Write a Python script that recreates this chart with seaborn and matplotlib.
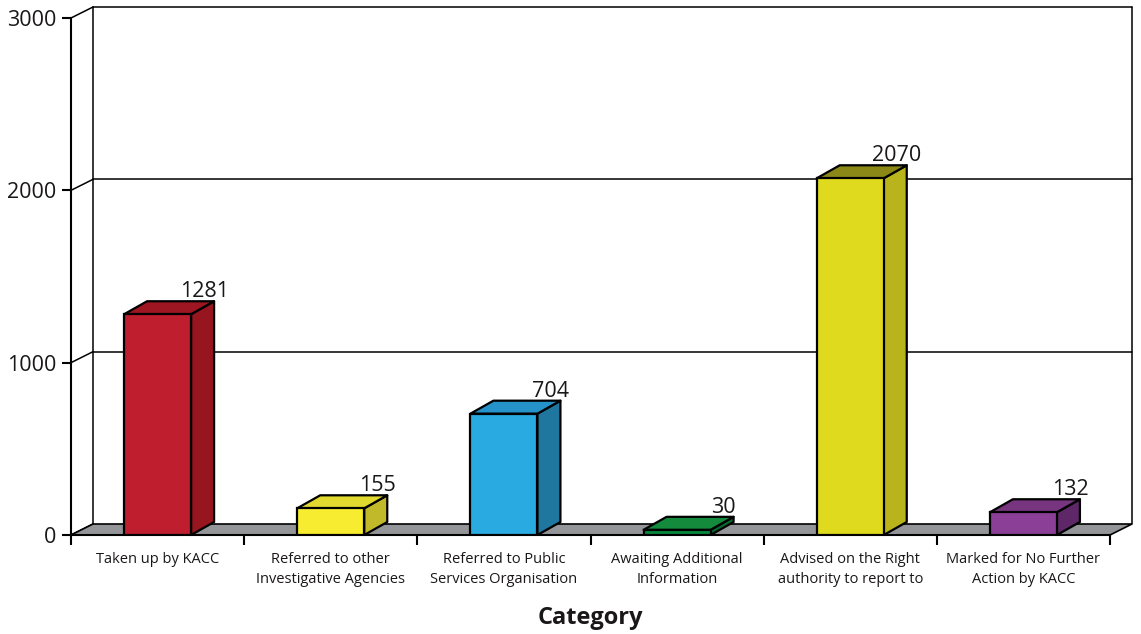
import matplotlib
matplotlib.use("Agg")
import matplotlib.pyplot as plt
from matplotlib.patches import Polygon
import seaborn as sns
import numpy as np

categories = ["Taken up by KACC", "Referred to other\nInvestigative Agencies",
              "Referred to Public\nServices Organisation", "Awaiting Additional\nInformation",
              "Advised on the Right\nauthority to report to", "Marked for No Further\nAction by KACC"]
values = [1281, 155, 704, 30, 2070, 132]
yticks = [0, 1000, 2000, 3000]
xlabel = "Category"

front_colors = ['#BE1E2D', '#F7EC30', '#29ABE2', '#068A3C', '#DFDA1E', '#8B3F96']
side_colors = ['#96151F', '#C1B929', '#1F77A0', '#066B2E', '#B9B31C', '#5E2768']
top_colors = ['#9D1622', '#E1D830', '#2593C9', '#148A3D', '#8C8817', '#77347F']

sns.set_style("white")
plt.rcParams['font.family'] = ['Open Sans', 'DejaVu Sans']

W, H = 1141, 634
fig = plt.figure(figsize=(W / 100, H / 100), dpi=100)
L, R, T, B = 71, 1110, 18, 535
ax = fig.add_axes([L / W, (H - B) / H, (R - L) / W, (B - T) / H])

ymax = 3000
ax.set_xlim(-0.5, len(categories) - 0.5)
ax.set_ylim(0, ymax)

pxx = (R - L) / len(categories)   # px per x unit
pxy = (B - T) / ymax              # px per y unit

def dxp(p):
    return p / pxx

def dyp(p):
    return p / pxy

# floor / wall depth
fdx, fdy = dxp(22), dyp(11)
# bar depth
bdx, bdy = dxp(23), dyp(13)

x0, x1 = -0.5, len(categories) - 0.5
lk = dict(color='black', lw=1.1, clip_on=False, zorder=1)
# back wall
ax.plot([x0 + fdx, x1 + fdx], [ymax + fdy, ymax + fdy], **lk)
ax.plot([x0 + fdx, x0 + fdx], [fdy, ymax + fdy], **lk)
ax.plot([x1 + fdx, x1 + fdx], [fdy, ymax + fdy], **lk)
for v in yticks:
    if 0 < v < ymax:
        ax.plot([x0 + fdx, x1 + fdx], [v + fdy, v + fdy], **lk)
    ax.plot([x0, x0 + fdx], [v, v + fdy], **lk)

# floor
floor = Polygon([(x0, 0), (x1, 0), (x1 + fdx, fdy), (x0 + fdx, fdy)], closed=True,
                facecolor='#939598', edgecolor='black', lw=1.2, clip_on=False, zorder=1.5)
ax.add_patch(floor)

# front faces through seaborn
sns.barplot(x=categories, y=values, hue=categories, palette=front_colors, legend=False,
            width=0.387, edgecolor='black', linewidth=1.6, saturation=1, ax=ax, zorder=3)

bars = [pp for pp in ax.patches if pp is not floor]
for i, p in enumerate(bars):
    xl = p.get_x()
    xr = xl + p.get_width()
    h = p.get_height()
    side = Polygon([(xr, 0), (xr + bdx, bdy), (xr + bdx, h + bdy), (xr, h)], closed=True,
                   facecolor=side_colors[i], edgecolor='black', lw=1.6, clip_on=False, zorder=2.8,
                   joinstyle='round')
    top = Polygon([(xl, h), (xl + bdx, h + bdy), (xr + bdx, h + bdy), (xr, h)], closed=True,
                  facecolor=top_colors[i], edgecolor='black', lw=1.6, clip_on=False, zorder=2.8,
                  joinstyle='round')
    ax.add_patch(side)
    ax.add_patch(top)
    ax.text(xr + dxp(13), h + bdy + dyp(4), f"{values[i]}", ha='center', va='baseline',
            fontsize=15.5, color='#1A1718', zorder=5, clip_on=False)

# axes styling
for s in ['top', 'right']:
    ax.spines[s].set_visible(False)
for s in ['left', 'bottom']:
    ax.spines[s].set_color('black')
    ax.spines[s].set_linewidth(1.5)
    ax.spines[s].set_zorder(2)

ax.set_yticks(yticks)
ax.set_yticklabels([str(v) for v in yticks])
ax.tick_params(axis='y', direction='out', length=6.5, width=1.5, pad=4, labelsize=15.5,
               left=True, colors='black', labelcolor='#1A1718')
ax.set_xticks(range(len(categories)))
ax.set_xticklabels(categories, linespacing=1.5)
ax.set_xticks(np.arange(-0.5, len(categories), 1.0), minor=True)
ax.tick_params(axis='x', which='major', length=0, pad=12, labelsize=10.5, labelcolor='#1A1718')
ax.tick_params(axis='x', which='minor', direction='out', length=7.5, width=1.5, bottom=True,
               colors='black')
ax.set_xlabel(xlabel, fontsize=17, fontweight='bold', color='#1A1718', va='center')
ax.xaxis.set_label_coords(0.5, -(618 - B) / (B - T))
ax.grid(False)
ax.set_ylabel("")

fig.savefig("out.png", dpi=100)
